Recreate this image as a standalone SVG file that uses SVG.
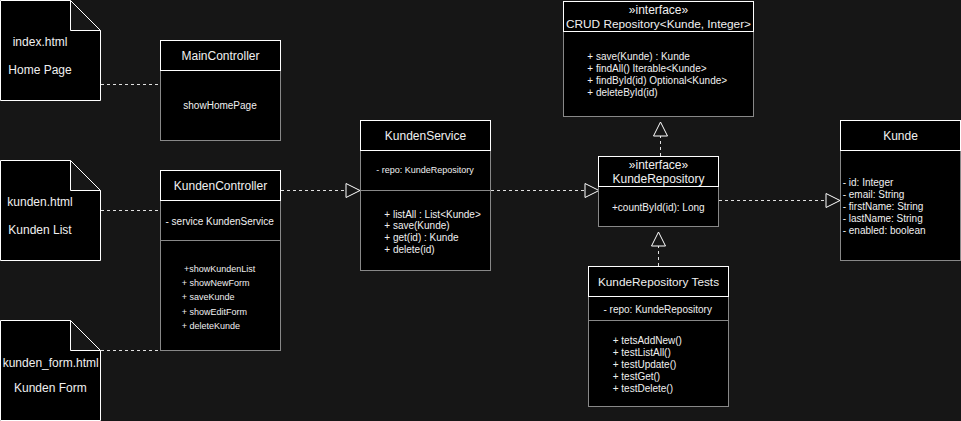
<svg xmlns="http://www.w3.org/2000/svg" width="961" height="421" viewBox="0 0 961 421">
<defs>
<style>
text{font-family:"Liberation Sans",Arial,sans-serif;fill:#f0f0f0;dominant-baseline:central}
.t12{font-size:12px}
.t10{font-size:10px}
.t9{font-size:9px}
.mid{text-anchor:middle}
.doc{fill:#000;stroke:#fff;stroke-width:1}
.fold{fill:#161616;stroke:#fff;stroke-width:1}
.body{fill:#000;stroke:#888;stroke-width:1}
.head{fill:#000;stroke:#fff;stroke-width:1}
.div{stroke:#888;stroke-width:1}
.dash{fill:none;stroke:#e0e0e0;stroke-width:1;stroke-dasharray:3 3}
</style>
<marker id="tri" viewBox="-1 -1 16 16" refX="14" refY="7" markerWidth="16" markerHeight="16" markerUnits="userSpaceOnUse" orient="auto" overflow="visible">
<path d="M0,0 L14,7 L0,14 Z" fill="#161616" stroke="#fff" stroke-width="1"/>
</marker>
</defs>
<rect x="0" y="0" width="961" height="421" fill="#161616"/>

<g id="connectors">
<path class="dash" d="M101,84.5 H158"/>
<path class="dash" d="M101,210.5 H158"/>
<path class="dash" d="M101,350.5 H160"/>
<path class="dash" d="M281,190.5 H360" marker-end="url(#tri)"/>
<path class="dash" d="M491,190.5 H599" marker-end="url(#tri)"/>
<path class="dash" d="M719,200.5 H840" marker-end="url(#tri)"/>
<path class="dash" d="M660.5,156 V122" marker-end="url(#tri)"/>
<path class="dash" d="M658.5,266 V232" marker-end="url(#tri)"/>
</g>

<g id="doc-index">
<polygon class="doc" points="0.5,0.5 70.5,0.5 100.5,30.5 100.5,100.5 0.5,100.5"/>
<polygon class="fold" points="70.5,0.5 70.5,30.5 100.5,30.5"/>
<text class="t12" x="12.7" y="41.5">index.html</text>
<text class="t12" x="8.3" y="70">Home Page</text>
</g>

<g id="doc-kunden">
<polygon class="doc" points="0.5,160.5 70.5,160.5 100.5,190.5 100.5,260.5 0.5,260.5"/>
<polygon class="fold" points="70.5,160.5 70.5,190.5 100.5,190.5"/>
<text class="t12" x="7.3" y="201.7">kunden.html</text>
<text class="t12" x="8.3" y="230">Kunden List</text>
</g>

<g id="doc-kunden-form">
<polygon class="doc" points="0.5,320.5 70.5,320.5 100.5,350.5 100.5,420.5 0.5,420.5"/>
<polygon class="fold" points="70.5,320.5 70.5,350.5 100.5,350.5"/>
<text class="t12" x="2.7" y="362.5">kunden_form.html</text>
<text class="t12" x="14" y="387.7">Kunden Form</text>
</g>

<g id="MainController">
<rect class="body" x="160.5" y="40.5" width="120" height="100"/>
<rect class="head" x="160.5" y="40.5" width="120" height="30"/>
<text class="t12 mid" x="220.5" y="55.7">MainController</text>
<text class="t10 mid" x="220" y="105.5">showHomePage</text>
</g>

<g id="KundenController">
<rect class="body" x="160.5" y="170.5" width="120" height="180"/>
<line class="div" x1="160.5" y1="240.5" x2="280.5" y2="240.5"/>
<rect class="head" x="160.5" y="170.5" width="120" height="30"/>
<text class="t12 mid" x="220.5" y="186">KundenController</text>
<text class="t10" x="165.5" y="221.7">- service KundenService</text>
<text class="t9" x="184" y="269">+showKundenList</text>
<text class="t9" x="181.7" y="283">+ showNewForm</text>
<text class="t9" x="181.7" y="297">+ saveKunde</text>
<text class="t9" x="181.7" y="312">+ showEditForm</text>
<text class="t9" x="181.7" y="326">+ deleteKunde</text>
</g>

<g id="KundenService">
<rect class="body" x="360.5" y="120.5" width="130" height="150"/>
<line class="div" x1="360.5" y1="190.5" x2="490.5" y2="190.5"/>
<rect class="head" x="360.5" y="120.5" width="130" height="30"/>
<text class="t12 mid" x="425.5" y="135.7">KundenService</text>
<text class="t9 mid" x="425" y="170">- repo: KundeRepository</text>
<text class="t10" x="384.3" y="214">+ listAll : List&lt;Kunde&gt;</text>
<text class="t10" x="384.3" y="225.8">+ save(Kunde)</text>
<text class="t10" x="384.3" y="237.7">+ get(id) : Kunde</text>
<text class="t10" x="384.3" y="249.4">+ delete(id)</text>
</g>

<g id="CrudRepository">
<rect class="body" x="563.5" y="1.5" width="190" height="115"/>
<rect class="head" x="563.5" y="1.5" width="190" height="30"/>
<text class="t12 mid" x="658.5" y="10">»interface»</text>
<text class="mid" x="658.5" y="24" style="font-size:11.8px">CRUD Repository&lt;Kunde, Integer&gt;</text>
<text class="t10" x="587.3" y="56.7">+ save(Kunde) : Kunde</text>
<text class="t10" x="587.3" y="68.7">+ findAll() Iterable&lt;Kunde&gt;</text>
<text class="t10" x="587.3" y="80.7">+ findById(id) Optional&lt;Kunde&gt;</text>
<text class="t10" x="587.3" y="92.7">+ deleteById(id)</text>
</g>

<g id="KundeRepository">
<rect class="body" x="598.5" y="156.5" width="120" height="70"/>
<rect class="head" x="598.5" y="156.5" width="120" height="30"/>
<text class="t12 mid" x="658.5" y="164.7">»interface»</text>
<text class="t12 mid" x="658.5" y="179">KundeRepository</text>
<text class="t10 mid" x="658.3" y="207.7">+countById(id): Long</text>
</g>

<g id="KundeRepositoryTests">
<rect class="body" x="588.5" y="266.5" width="140" height="140"/>
<line class="div" x1="588.5" y1="320.5" x2="728.5" y2="320.5"/>
<rect class="head" x="588.5" y="266.5" width="140" height="30"/>
<text class="mid" x="658.5" y="282" style="font-size:11.8px">KundeRepository Tests</text>
<text class="t10 mid" x="657.7" y="309.3">- repo: KundeRepository</text>
<text class="t10" x="612.7" y="340">+ tetsAddNew()</text>
<text class="t10" x="612.7" y="352.3">+ testListAll()</text>
<text class="t10" x="612.7" y="364.3">+ testUpdate()</text>
<text class="t10" x="612.7" y="376.3">+ testGet()</text>
<text class="t10" x="612.7" y="388.3">+ testDelete()</text>
</g>

<g id="Kunde">
<rect class="body" x="840.5" y="120.5" width="120" height="140"/>
<rect class="head" x="840.5" y="120.5" width="120" height="30"/>
<text class="t12 mid" x="900.5" y="135.7">Kunde</text>
<text class="t10" x="842.7" y="182.3">- id: Integer</text>
<text class="t10" x="842.7" y="194.3">- email: String</text>
<text class="t10" x="842.7" y="206.3">- firstName: String</text>
<text class="t10" x="842.7" y="218.3">- lastName: String</text>
<text class="t10" x="842.7" y="230.3">- enabled: boolean</text>
</g>
</svg>
